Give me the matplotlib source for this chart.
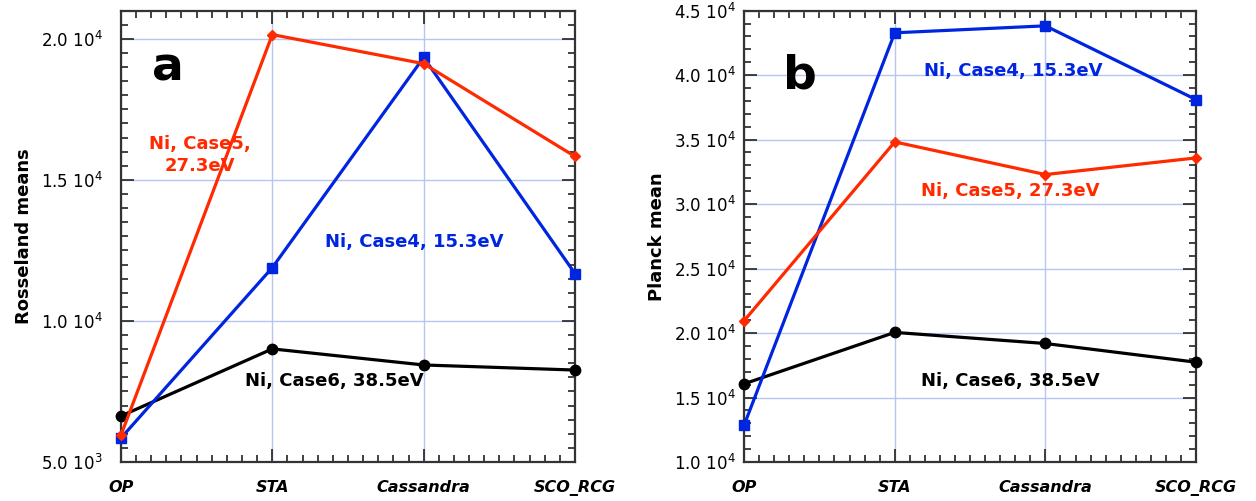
import matplotlib
matplotlib.use("Agg")
import matplotlib.pyplot as plt
from matplotlib.ticker import MultipleLocator, FuncFormatter

codes = ["OP", "STA", "Cassandra", "SCO_RCG"]

# Rosseland means
ross_case4 = [5850, 11890, 19340, 11680]
ross_case5 = [5950, 20150, 19120, 15830]
ross_case6 = [6630, 9010, 8440, 8260]

# Planck means
planck_case4 = [12850, 43280, 43820, 38100]
planck_case5 = [20950, 34820, 32290, 33580]
planck_case6 = [16060, 20050, 19190, 17740]

RED = "#ff2a00"
BLUE = "#0025e0"
BLACK = "#000000"
GRID = "#b8c4f2"


def sci_label(v, pos):
    if v <= 0:
        return ""
    exp = 0
    m = v
    while m >= 10:
        m /= 10.0
        exp += 1
    return "%.1f 10$^{%d}$" % (m, exp)


def style_axis(ax, ylim, ymajor, yminor, ypad):
    x = range(len(codes))
    ax.set_xlim(0, len(codes) - 1)
    ax.set_ylim(*ylim)
    ax.set_xticks(list(x))
    ax.set_xticklabels(codes, fontsize=11.5, fontweight="bold", fontstyle="italic")
    ax.xaxis.set_minor_locator(MultipleLocator(0.1))
    ax.yaxis.set_major_locator(MultipleLocator(ymajor))
    ax.yaxis.set_minor_locator(MultipleLocator(yminor))
    ax.yaxis.set_major_formatter(FuncFormatter(sci_label))
    ax.tick_params(which="both", direction="in", top=True, right=True,
                   color="#222222", width=1.2)
    ax.tick_params(which="major", length=9.5)
    ax.tick_params(which="minor", length=5)
    ax.tick_params(axis="x", which="major", pad=13)
    ax.tick_params(axis="y", which="major", pad=ypad, labelsize=12)
    for s in ax.spines.values():
        s.set_color("#333333")
        s.set_linewidth(1.6)
    ax.grid(True, which="major", color=GRID, linewidth=1.0)
    ax.set_axisbelow(True)


def draw_series(ax, c4, c5, c6):
    x = range(len(codes))
    ax.plot(x, c6, color=BLACK, lw=2.3, marker="o", ms=7.5, clip_on=False, zorder=3)
    ax.plot(x, c4, color=BLUE, lw=2.3, marker="s", ms=7, clip_on=False, zorder=4)
    ax.plot(x, c5, color=RED, lw=2.3, marker="D", ms=5, clip_on=False, zorder=5)


fig = plt.figure(figsize=(12.56, 5.01), dpi=100)
ax_a = fig.add_axes([0.0963, 0.0778, 0.3615, 0.901])
ax_b = fig.add_axes([0.5924, 0.0778, 0.3599, 0.901])

# panel a
draw_series(ax_a, ross_case4, ross_case5, ross_case6)
style_axis(ax_a, (5000, 21000), 5000, 500, 13)
ax_a.set_ylabel("Rosseland means", fontsize=13, fontweight="bold", labelpad=6)
txt = dict(ha="center", va="center", fontsize=13, fontweight="bold")
ax_a.text(0.31, 18970, "a", ha="center", va="center", fontsize=34, fontweight="bold")
ax_a.text(0.52, 15890, "Ni, Case5,\n27.3eV", color=RED, linespacing=1.25, **txt)
ax_a.text(1.94, 12800, "Ni, Case4, 15.3eV", color=BLUE, **txt)
ax_a.text(1.41, 7870, "Ni, Case6, 38.5eV", color=BLACK, **txt)

# panel b
draw_series(ax_b, planck_case4, planck_case5, planck_case6)
style_axis(ax_b, (10000, 45000), 5000, 1000, 6)
ax_b.set_ylabel("Planck mean", fontsize=13, fontweight="bold", labelpad=6)
ax_b.text(0.37, 39950, "b", ha="center", va="center", fontsize=34, fontweight="bold")
ax_b.text(1.785, 40340, "Ni, Case4, 15.3eV", color=BLUE, **txt)
ax_b.text(1.765, 31050, "Ni, Case5, 27.3eV", color=RED, **txt)
ax_b.text(1.765, 16270, "Ni, Case6, 38.5eV", color=BLACK, **txt)

fig.savefig("out.png", dpi=100)
